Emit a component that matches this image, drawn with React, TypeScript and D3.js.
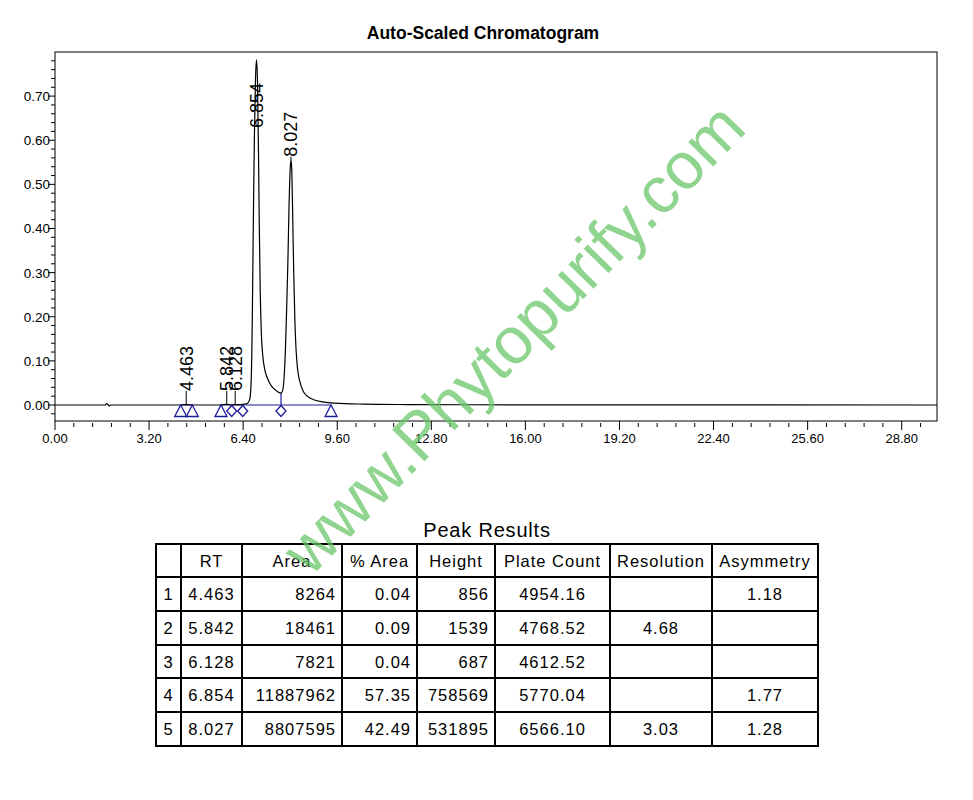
import React from "react";
import * as d3 from "d3";

// Detector trace (minutes, AU)
const traceTime = [
  0.0, 1.7, 1.76, 1.8, 1.84, 1.9, 4.2, 4.46, 4.7, 5.6, 5.84, 6.0, 6.13, 6.3, 6.45, 6.55,
  6.62, 6.67, 6.71, 6.74, 6.78, 6.82, 6.854, 6.885, 6.92, 6.95, 6.98, 7.02, 7.07, 7.13,
  7.2, 7.3, 7.4, 7.5, 7.6, 7.687, 7.74, 7.79, 7.84, 7.88, 7.92, 7.96, 8.0, 8.027, 8.055,
  8.09, 8.12, 8.16, 8.2, 8.25, 8.32, 8.45, 8.6, 8.8, 9.1, 9.5, 10.5, 12.0, 14.0, 30.0,
];
const traceAU = [
  0, 0, 0.003, 0.001, -0.002, 0, 0, 0.001, 0, 0, 0.0015, 0.0005, 0.0007, 0.001, 0.002, 0.004,
  0.012, 0.05, 0.19, 0.38, 0.6, 0.74, 0.782, 0.74, 0.58, 0.4, 0.26, 0.16, 0.11, 0.082,
  0.065, 0.05, 0.04, 0.034, 0.029, 0.027, 0.032, 0.06, 0.13, 0.22, 0.32, 0.45, 0.535, 0.556, 0.53,
  0.41, 0.3, 0.19, 0.125, 0.082, 0.055, 0.03, 0.019, 0.012, 0.007, 0.004, 0.002, 0.001, 0.0005, 0,
];

// Integration events
const eventTime = [4.275, 4.67, 5.646, 6.01, 6.384, 7.687, 9.39];
const eventKind = ["start", "end", "start", "drop", "drop", "drop", "end"];
const baselineFrom = [4.275, 5.646];
const baselineTo = [4.67, 9.39];
const dropLineTime = [7.687];

// Axis ticks
const xMajorTicks = d3.range(0, 10).map((i) => i * 3.2);
const xMinorTicks = d3.range(0, 47).filter((i) => i % 5 !== 0).map((i) => i * 0.64);
const yMajorTicks = d3.range(0, 8).map((i) => i * 0.1);
const yMinorTicks = d3.range(-1, 41).filter((i) => i % 5 !== 0).map((i) => i * 0.02);

// Peak results
const peakNo = [1, 2, 3, 4, 5];
const peakRT = [4.463, 5.842, 6.128, 6.854, 8.027];
const peakArea = [8264, 18461, 7821, 11887962, 8807595];
const peakPctArea = [0.04, 0.09, 0.04, 57.35, 42.49];
const peakHeight = [856, 1539, 687, 758569, 531895];
const peakPlates = [4954.16, 4768.52, 4612.52, 5770.04, 6566.1];
const peakResolution: (number | null)[] = [null, 4.68, null, null, 3.03];
const peakAsymmetry: (number | null)[] = [1.18, null, null, 1.77, 1.28];
const tableHeaders = ["", "RT", "Area", "% Area", "Height", "Plate Count", "Resolution", "Asymmetry"];

const FONT = "'Liberation Sans', Arial, sans-serif";
const BLUE = "#1c1c96";

export default function App() {
  const left = 55, right = 937, top = 52, bottom = 421;
  const x = d3.scaleLinear().domain([0, 30]).range([left, right]);
  const y = d3.scaleLinear().domain([-0.0363, 0.8]).range([bottom, top]);

  const pts: [number, number][] = traceTime.map((t, i) => [t, traceAU[i]]);
  const line = d3
    .line<[number, number]>()
    .x((d) => x(d[0]))
    .y((d) => y(d[1]))
    .curve(d3.curveMonotoneX);

  const auAt = (t: number) => {
    const i = d3.bisector((d: number) => d).left(traceTime, t);
    if (i <= 0) return traceAU[0];
    if (i >= traceTime.length) return traceAU[traceAU.length - 1];
    const t0 = traceTime[i - 1], t1 = traceTime[i];
    const f = (t - t0) / (t1 - t0);
    return traceAU[i - 1] + f * (traceAU[i] - traceAU[i - 1]);
  };

  const y0 = y(0);
  const labelFs = 18;

  // table geometry
  const colEdges = [156, 181, 242, 342, 417, 495, 610, 712, 818];
  const rowEdges = [544, 577, 611, 645, 678, 712, 746];
  const align = ["middle", "middle", "end", "end", "end", "middle", "middle", "middle"];
  const rows = peakNo.map((n, i) => [
    String(n),
    peakRT[i].toFixed(3),
    String(peakArea[i]),
    peakPctArea[i].toFixed(2),
    String(peakHeight[i]),
    peakPlates[i].toFixed(2),
    peakResolution[i] == null ? "" : (peakResolution[i] as number).toFixed(2),
    peakAsymmetry[i] == null ? "" : (peakAsymmetry[i] as number).toFixed(2),
  ]);
  const cellX = (c: number) => {
    const a = align[c];
    if (a === "end") return colEdges[c + 1] - 6;
    return (colEdges[c] + colEdges[c + 1]) / 2;
  };

  return (
    <svg
      width={973}
      height={800}
      style={{ position: "absolute", left: 0, top: 0, background: "#fff" }}
      fontFamily={FONT}
    >
      <rect width={973} height={800} fill="#fff" />
      <text x={483} y={39} textAnchor="middle" fontSize={17.5} fontWeight="bold">
        Auto-Scaled Chromatogram
      </text>

      {/* plot frame */}
      <rect x={left} y={top} width={right - left} height={bottom - top} fill="none" stroke="#000" strokeWidth={1} />

      {/* y axis */}
      {yMinorTicks.map((v) => (
        <line key={"ym" + v} x1={left - 4} x2={left} y1={y(v)} y2={y(v)} stroke="#000" strokeWidth={1} />
      ))}
      {yMajorTicks.map((v) => (
        <g key={"yM" + v}>
          <line x1={left - 7} x2={left} y1={y(v)} y2={y(v)} stroke="#000" strokeWidth={1} />
          <text x={left - 5} y={y(v) + 5} textAnchor="end" fontSize={13.5}>
            {v.toFixed(2)}
          </text>
        </g>
      ))}

      {/* x axis */}
      {xMinorTicks.map((v) => (
        <line key={"xm" + v} x1={x(v)} x2={x(v)} y1={bottom + 2} y2={bottom + 6} stroke="#000" strokeWidth={1} />
      ))}
      {xMajorTicks.map((v) => (
        <g key={"xM" + v}>
          <line x1={x(v)} x2={x(v)} y1={bottom} y2={bottom + 9} stroke="#000" strokeWidth={1} />
          <text x={x(v)} y={bottom + 22} textAnchor="middle" fontSize={13}>
            {v.toFixed(2)}
          </text>
        </g>
      ))}

      {/* integration baseline */}
      {baselineFrom.map((t, i) => (
        <line key={"bl" + i} x1={x(t)} x2={x(baselineTo[i])} y1={y0} y2={y0} stroke={BLUE} strokeWidth={1.2} />
      ))}
      {dropLineTime.map((t) => (
        <line key={"dl" + t} x1={x(t)} x2={x(t)} y1={y(auAt(t))} y2={y0} stroke={BLUE} strokeWidth={1.2} />
      ))}

      {/* trace */}
      <path d={line(pts) || ""} fill="none" stroke="#000" strokeWidth={1.2} />

      {/* event markers */}
      {eventTime.map((t, i) => {
        const cx = x(t);
        if (eventKind[i] === "drop") {
          const cy = y0 + 6;
          return (
            <path
              key={"ev" + i}
              d={`M${cx},${cy - 5.5}L${cx + 5},${cy}L${cx},${cy + 5.5}L${cx - 5},${cy}Z`}
              fill="none"
              stroke={BLUE}
              strokeWidth={1.3}
            />
          );
        }
        return (
          <path
            key={"ev" + i}
            d={`M${cx},${y0}L${cx + 6},${y0 + 11.5}L${cx - 6},${y0 + 11.5}Z`}
            fill="none"
            stroke={BLUE}
            strokeWidth={1.3}
          />
        );
      })}

      {/* peak labels */}
      {peakRT.map((rt) => {
        const px = x(rt);
        const apexY = y(auAt(rt));
        let lb = Math.min(apexY - 3, y0 - 14);
        lb = Math.max(lb, top + 76);
        return (
          <g key={"pl" + rt}>
            {apexY > lb && <line x1={px} x2={px} y1={lb} y2={apexY} stroke="#000" strokeWidth={1} />}
            <text
              transform={`translate(${px + 0.36 * labelFs},${lb}) rotate(-90)`}
              fontSize={labelFs}
              textAnchor="start"
            >
              {rt.toFixed(3)}
            </text>
          </g>
        );
      })}

      {/* peak results table */}
      <text x={487} y={537} textAnchor="middle" fontSize={20} letterSpacing={0.8}>
        Peak Results
      </text>
      <rect
        x={colEdges[0]}
        y={rowEdges[0]}
        width={colEdges[colEdges.length - 1] - colEdges[0]}
        height={rowEdges[rowEdges.length - 1] - rowEdges[0]}
        fill="none"
        stroke="#000"
        strokeWidth={2}
      />
      {colEdges.slice(1, -1).map((cx) => (
        <line key={"c" + cx} x1={cx} x2={cx} y1={rowEdges[0]} y2={rowEdges[rowEdges.length - 1]} stroke="#000" strokeWidth={2} />
      ))}
      {rowEdges.slice(1, -1).map((ry) => (
        <line key={"r" + ry} x1={colEdges[0]} x2={colEdges[colEdges.length - 1]} y1={ry} y2={ry} stroke="#000" strokeWidth={2} />
      ))}
      {tableHeaders.map((h, c) => (
        <text
          key={"h" + c}
          x={(colEdges[c] + colEdges[c + 1]) / 2}
          y={(rowEdges[0] + rowEdges[1]) / 2 + 6}
          textAnchor="middle"
          fontSize={16.5}
          letterSpacing={1}
        >
          {h}
        </text>
      ))}
      {rows.map((r, ri) =>
        r.map((v, c) => (
          <text
            key={"v" + ri + "-" + c}
            x={cellX(c)}
            y={(rowEdges[ri + 1] + rowEdges[ri + 2]) / 2 + 6}
            textAnchor={align[c] as any}
            fontSize={16.5}
            letterSpacing={1}
          >
            {v}
          </text>
        ))
      )}

      {/* site watermark */}
      <text
        transform="translate(513,338) rotate(-45.6)"
        textAnchor="middle"
        dominantBaseline="central"
        fontSize={66}
        fill="rgb(100,195,100)"
        fillOpacity={0.72}
      >
        www.Phytopurify.com
      </text>
    </svg>
  );
}
